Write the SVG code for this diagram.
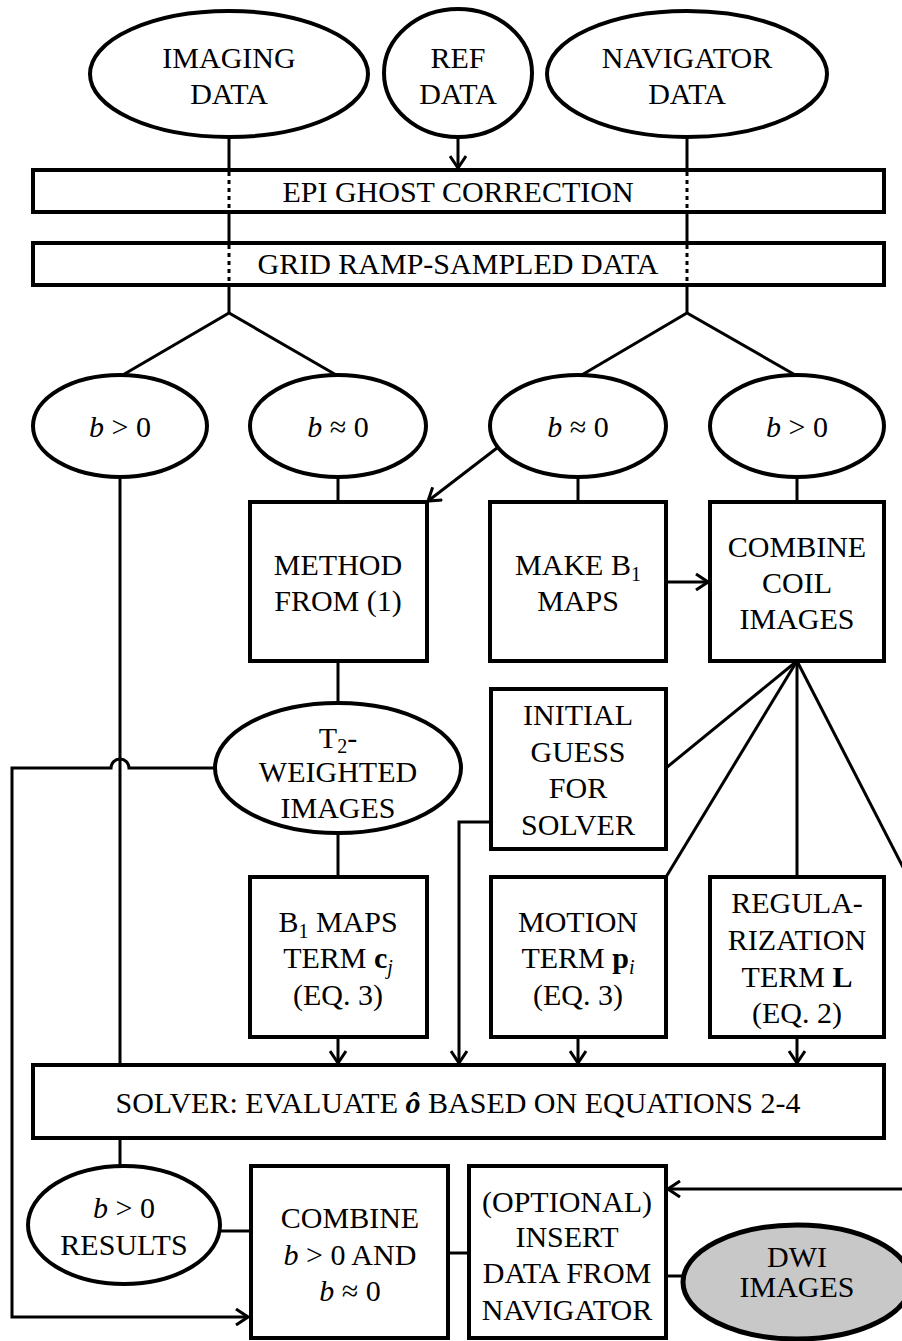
<svg xmlns="http://www.w3.org/2000/svg" width="902" height="1341" viewBox="0 0 902 1341">
<style>
text{font-family:"Liberation Serif","Times New Roman",serif;font-size:30px;fill:#000;text-anchor:middle}
.n{fill:#fff;stroke:#000;stroke-width:4}
.o{fill:none;stroke:#000;stroke-width:4}
.c{fill:none;stroke:#000;stroke-width:3}
.d{fill:none;stroke:#000;stroke-width:3;stroke-dasharray:4 4}
.s{font-size:20px}
.i{font-style:italic}
.b{font-weight:bold}
</style>
<defs>
<marker id="ah" viewBox="0 0 14 18" refX="13" refY="9" markerWidth="14" markerHeight="18" orient="auto" markerUnits="userSpaceOnUse">
<path d="M1,1 L13,9 L1,17" fill="none" stroke="#000" stroke-width="3"/>
</marker>
</defs>
<rect width="902" height="1341" fill="#fff"/>

<g id="connectors">
<line class="c" x1="229" y1="137" x2="229" y2="170"/>
<line class="d" x1="229" y1="172" x2="229" y2="212"/>
<line class="c" x1="229" y1="212" x2="229" y2="243"/>
<line class="d" x1="229" y1="245" x2="229" y2="285"/>
<line class="c" x1="229" y1="285" x2="229" y2="313"/>
<line class="c" x1="687" y1="137" x2="687" y2="170"/>
<line class="d" x1="687" y1="172" x2="687" y2="212"/>
<line class="c" x1="687" y1="212" x2="687" y2="243"/>
<line class="d" x1="687" y1="245" x2="687" y2="285"/>
<line class="c" x1="687" y1="285" x2="687" y2="313"/>
<line class="c" x1="458" y1="137" x2="458" y2="168" marker-end="url(#ah)"/>
<polyline class="c" points="121,376 229,313 338,376"/>
<polyline class="c" points="580,376 687,313 797,376"/>
<line class="c" x1="120" y1="477" x2="120" y2="1065"/>
<line class="c" x1="338" y1="477" x2="338" y2="502"/>
<line class="c" x1="578" y1="477" x2="578" y2="502"/>
<line class="c" x1="797" y1="477" x2="797" y2="502"/>
<line class="c" x1="497" y1="448" x2="428" y2="501" marker-end="url(#ah)"/>
<line class="c" x1="666" y1="582" x2="708" y2="582" marker-end="url(#ah)"/>
<line class="c" x1="338" y1="661" x2="338" y2="703"/>
<line class="c" x1="338" y1="834" x2="338" y2="877"/>
<path class="c" d="M215,768 H129 A9,9 0 0 0 111,768 H12 V1317 H248" marker-end="url(#ah)"/>
<line class="c" x1="797" y1="661" x2="666" y2="768"/>
<line class="c" x1="797" y1="661" x2="666" y2="877"/>
<line class="c" x1="797" y1="661" x2="797" y2="877"/>
<line class="c" x1="797" y1="661" x2="907" y2="875"/>
<polyline class="c" points="491,822 459,822 459,1063" marker-end="url(#ah)"/>
<line class="c" x1="338" y1="1037" x2="338" y2="1063" marker-end="url(#ah)"/>
<line class="c" x1="578" y1="1037" x2="578" y2="1063" marker-end="url(#ah)"/>
<line class="c" x1="797" y1="1037" x2="797" y2="1063" marker-end="url(#ah)"/>
<line class="c" x1="120" y1="1138" x2="120" y2="1166"/>
<line class="c" x1="220" y1="1231" x2="251" y2="1231"/>
<line class="c" x1="448" y1="1253" x2="469" y2="1253"/>
<line class="c" x1="905" y1="1189" x2="668" y2="1189" marker-end="url(#ah)"/>
<line class="c" x1="666" y1="1276" x2="684" y2="1276"/>
</g>

<g id="imaging-data"><ellipse class="n" cx="229" cy="74" rx="139" ry="63"/><text x="229" y="68">IMAGING</text><text x="229" y="104">DATA</text></g>
<g id="ref-data"><ellipse class="n" cx="458" cy="73" rx="74" ry="64"/><text x="458" y="68">REF</text><text x="458" y="104">DATA</text></g>
<g id="navigator-data"><ellipse class="n" cx="687" cy="74" rx="140" ry="63"/><text x="687" y="68">NAVIGATOR</text><text x="687" y="104">DATA</text></g>

<g id="epi-ghost"><rect class="o" x="33" y="170" width="851" height="42"/><text x="458" y="202">EPI GHOST CORRECTION</text></g>
<g id="grid-ramp"><rect class="o" x="33" y="243" width="851" height="42"/><text x="458" y="274">GRID RAMP-SAMPLED DATA</text></g>

<g id="img-b-gt0"><ellipse class="n" cx="120" cy="426" rx="87" ry="51"/><text x="120" y="437"><tspan class="i">b</tspan> &gt; 0</text></g>
<g id="img-b-approx0"><ellipse class="n" cx="338" cy="426" rx="88" ry="51"/><text x="338" y="437"><tspan class="i">b</tspan> ≈ 0</text></g>
<g id="nav-b-approx0"><ellipse class="n" cx="578" cy="426" rx="88" ry="51"/><text x="578" y="437"><tspan class="i">b</tspan> ≈ 0</text></g>
<g id="nav-b-gt0"><ellipse class="n" cx="797" cy="426" rx="87" ry="51"/><text x="797" y="437"><tspan class="i">b</tspan> &gt; 0</text></g>

<g id="method"><rect class="n" x="250" y="502" width="177" height="159"/><text x="338" y="575">METHOD</text><text x="338" y="611">FROM (1)</text></g>
<g id="make-b1"><rect class="n" x="490" y="502" width="176" height="159"/><text x="578" y="575">MAKE B<tspan class="s" dy="6">1</tspan></text><text x="578" y="611">MAPS</text></g>
<g id="combine-coil"><rect class="n" x="710" y="502" width="174" height="159"/><text x="797" y="557">COMBINE</text><text x="797" y="593">COIL</text><text x="797" y="629">IMAGES</text></g>

<g id="t2-weighted"><ellipse class="n" cx="338" cy="768" rx="123" ry="65"/><text x="338" y="748">T<tspan class="s" dy="5">2</tspan><tspan dy="-5">-</tspan></text><text x="338" y="782">WEIGHTED</text><text x="338" y="818">IMAGES</text></g>
<g id="initial-guess"><rect class="n" x="491" y="689" width="175" height="160"/><text x="578" y="725">INITIAL</text><text x="578" y="762">GUESS</text><text x="578" y="798">FOR</text><text x="578" y="835">SOLVER</text></g>

<g id="b1-maps-term"><rect class="n" x="250" y="877" width="177" height="160"/><text x="338" y="932">B<tspan class="s" dy="6">1</tspan><tspan dy="-6"> MAPS</tspan></text><text x="338" y="968">TERM <tspan class="b">c</tspan><tspan class="s i" dy="6">j</tspan></text><text x="338" y="1005">(EQ. 3)</text></g>
<g id="motion-term"><rect class="n" x="491" y="877" width="175" height="160"/><text x="578" y="932">MOTION</text><text x="578" y="968">TERM <tspan class="b">p</tspan><tspan class="s i" dy="6">i</tspan></text><text x="578" y="1005">(EQ. 3)</text></g>
<g id="regularization-term"><rect class="n" x="710" y="877" width="174" height="160"/><text x="797" y="913">REGULA-</text><text x="797" y="950">RIZATION</text><text x="797" y="987">TERM <tspan class="b">L</tspan></text><text x="797" y="1023">(EQ. 2)</text></g>

<g id="solver"><rect class="n" x="33" y="1065" width="851" height="73"/><text x="458" y="1113">SOLVER: EVALUATE <tspan class="b i">ô</tspan> BASED ON EQUATIONS 2-4</text></g>

<g id="b-gt0-results"><ellipse class="n" cx="124" cy="1225" rx="96" ry="59"/><text x="124" y="1218"><tspan class="i">b</tspan> &gt; 0</text><text x="124" y="1255">RESULTS</text></g>
<g id="combine-b"><rect class="n" x="251" y="1166" width="197" height="172"/><text x="350" y="1228">COMBINE</text><text x="350" y="1265"><tspan class="i">b</tspan> &gt; 0 AND</text><text x="350" y="1301"><tspan class="i">b</tspan> ≈ 0</text></g>
<g id="insert-data"><rect class="n" x="469" y="1166" width="197" height="172"/><text x="567" y="1212">(OPTIONAL)</text><text x="567" y="1247">INSERT</text><text x="567" y="1283">DATA FROM</text><text x="567" y="1320">NAVIGATOR</text></g>
<g id="dwi-images"><ellipse cx="797" cy="1282" rx="114" ry="57" fill="#c8c8c8" stroke="#000" stroke-width="5"/><text x="797" y="1267">DWI</text><text x="797" y="1297">IMAGES</text></g>
</svg>
